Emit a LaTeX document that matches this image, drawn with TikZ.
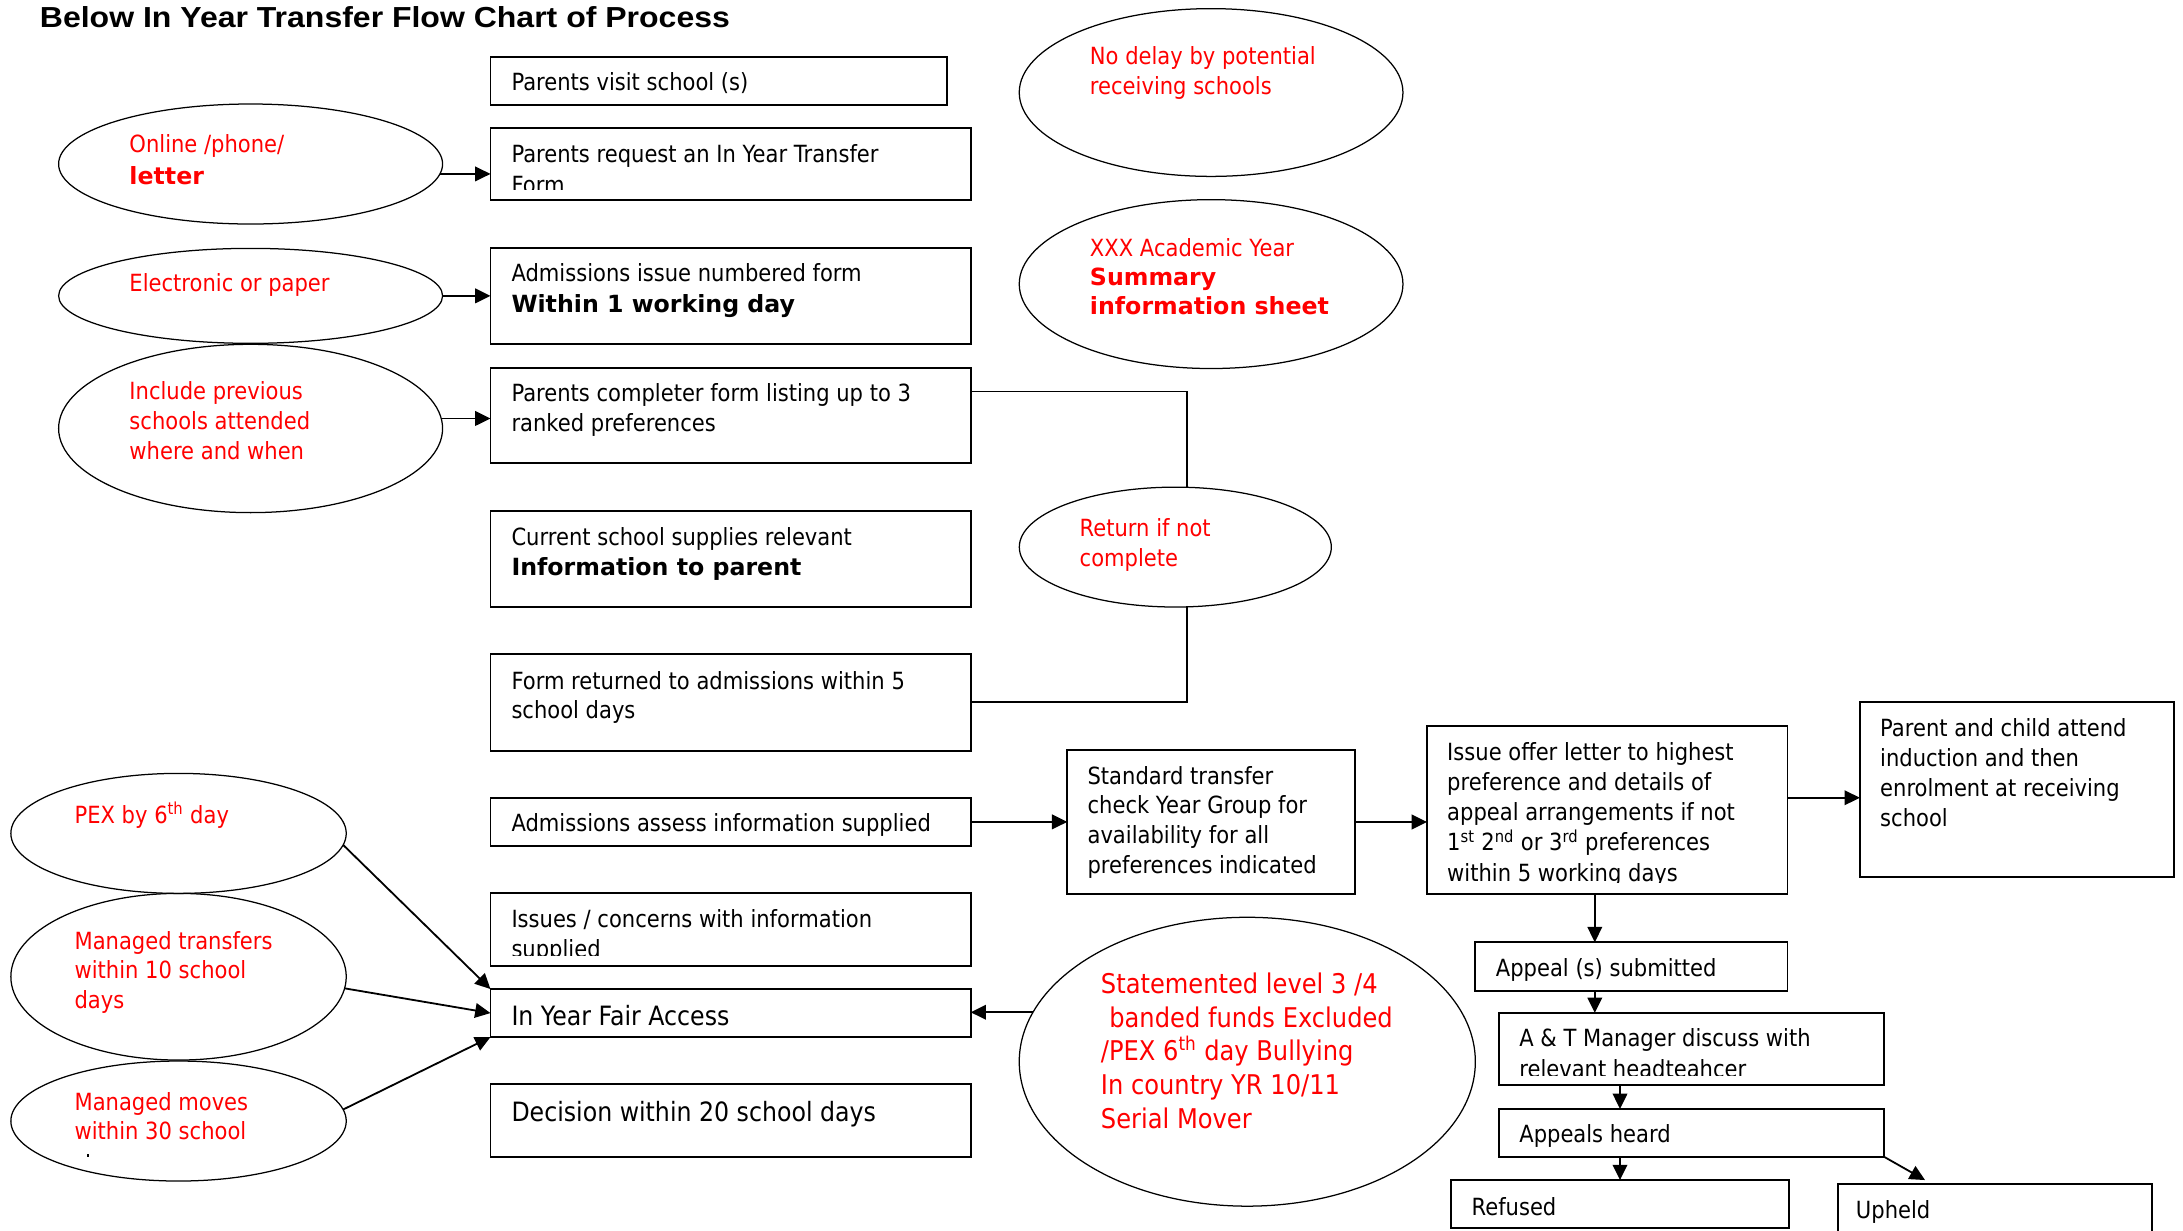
\documentclass[tikz,border=0pt]{standalone}
\usepackage{fontspec}
\usepackage{graphicx}
\setmainfont{DejaVu Sans}[FakeStretch=0.89]
\newfontfamily\boldface{DejaVu Sans}
\newfontfamily\titlefont{Liberation Sans}
\usetikzlibrary{arrows.meta,shapes.geometric,calc}
\definecolor{tred}{RGB}{255,0,0}
\newcommand\bt[1]{{\boldface\bfseries #1}}
\newcommand\ml[2][21.6pt]{\parbox[t]{470pt}{\raggedright\baselineskip=#1\relax #2}}
\tikzset{
 boxn/.style={draw, line width=1.4pt, rectangle, inner sep=0pt, outer sep=0pt, anchor=north west},
 oval/.style={draw, line width=0.9pt, ellipse, inner sep=0pt, outer sep=0pt},
 lbl/.style={anchor=base west, inner sep=0pt, outer sep=0pt, font=\fontsize{17}{21.6}\selectfont},
 rlbl/.style={lbl, text=tred},
 biglbl/.style={lbl, font=\fontsize{19.1}{24}\selectfont},
 conn/.style={line width=1.3pt},
 arr/.style={conn, -{Triangle[length=11pt,width=10.5pt]}},
}
\begin{document}
\begin{tikzpicture}[x=1pt,y=-1pt]
\useasboundingbox (0,0) rectangle (1568,884);
\clip (0,0) rectangle (1568,884);

% title
\node[anchor=base west, inner sep=0pt] (title) at (28.5,19.8)
  {\titlefont\bfseries\fontsize{20.8}{24}\selectfont\scalebox{1.105}[1]{Below In Year Transfer Flow Chart of Process}};

% left column boxes
\node[boxn, minimum width=327.9pt, minimum height=34.7pt] (b1) at (352.3,40.7) {};
\node[boxn, minimum width=344.9pt, minimum height=51.5pt] (b2) at (352.3,92.2) {};
\node[boxn, minimum width=344.9pt, minimum height=68.7pt] (b3) at (352.3,178.4) {};
\node[boxn, minimum width=344.9pt, minimum height=68.7pt] (b4) at (352.3,264.1) {};
\node[boxn, minimum width=344.9pt, minimum height=69.2pt] (b5) at (352.3,366.8) {};
\node[boxn, minimum width=344.9pt, minimum height=69.4pt] (b6) at (352.3,469.8) {};
\node[boxn, minimum width=344.9pt, minimum height=34.7pt] (b7) at (352.3,573) {};
\node[boxn, minimum width=344.9pt, minimum height=51.9pt] (b8) at (352.3,641.7) {};
\node[boxn, minimum width=344.9pt, minimum height=34.5pt] (b9) at (352.3,710.4) {};
\node[boxn, minimum width=344.9pt, minimum height=52.2pt] (b10) at (352.3,778.6) {};

% right flow boxes
\node[boxn, minimum width=206.6pt, minimum height=103.2pt] (s1) at (766.6,538.8) {};
\node[boxn, minimum width=258.9pt, minimum height=121.0pt] (s2) at (1025.0,521.4) {};
\node[boxn, minimum width=225.9pt, minimum height=125.5pt] (s3) at (1335.9,504.3) {};
\node[boxn, minimum width=224.6pt, minimum height=35.0pt] (a1) at (1059.3,676.8) {};
\node[boxn, minimum width=276.5pt, minimum height=51.9pt] (a2) at (1076.8,727.5) {};
\node[boxn, minimum width=276.5pt, minimum height=34.4pt] (a3) at (1076.8,796.5) {};
\node[boxn, minimum width=242.9pt, minimum height=34.2pt] (rf) at (1042.4,847.6) {};
\node[boxn, minimum width=225.7pt, minimum height=60pt] (up) at (1320.3,850.7) {};

% ellipses
\node[oval, minimum width=275.8pt, minimum height=86.2pt] (e1) at (180,117.8) {};
\node[oval, minimum width=275.8pt, minimum height=68.2pt] (e2) at (180,212.5) {};
\node[oval, minimum width=275.8pt, minimum height=120.9pt] (e3) at (180,307.75) {};
\node[oval, minimum width=240.9pt, minimum height=86.2pt] (e4) at (128.25,598.6) {};
\node[oval, minimum width=240.9pt, minimum height=119.7pt] (e5) at (128.25,701.55) {};
\node[oval, minimum width=240.9pt, minimum height=86.2pt] (e6) at (128.25,805.2) {};
\node[oval, minimum width=275.6pt, minimum height=120.5pt] (e7) at (869.9,66.45) {};
\node[oval, minimum width=275.6pt, minimum height=121.3pt] (e8) at (869.9,204.05) {};
\node[oval, minimum width=224.1pt, minimum height=86.1pt] (e9) at (844.2,392.95) {};
\node[oval, minimum width=327.6pt, minimum height=207.5pt] (e10) at (895.9,762.6) {};

% box texts
\node[lbl] (tb1) at (367.4,65.1) {Parents visit school (s)};
\begin{scope}
\clip (b2.north west) rectangle ($(b2.south east)+(0,-7.5)$);
\node[lbl] (tb2) at (367.4,116.6) {\ml[22.4pt]{Parents request an In Year Transfer\\Form}};
\end{scope}
\node[lbl] (tb3) at (367.4,202.3) {\ml[22.3pt]{Admissions issue numbered form\\\bt{Within 1 working day}}};
\node[lbl] (tb4) at (367.4,288.5) {\ml[21.5pt]{Parents completer form listing up to 3\\ranked preferences}};
\node[lbl] (tb5) at (367.4,391.5) {\ml[22.2pt]{Current school supplies relevant\\\bt{Information to parent}}};
\node[lbl] (tb6) at (367.4,495.1) {\ml[21pt]{Form returned to admissions within 5\\school days}};
\node[lbl] (tb7) at (367.4,597.4) {Admissions assess information supplied};
\begin{scope}
\clip (b8.north west) rectangle ($(b8.south east)+(0,-7.2)$);
\node[lbl] (tb8) at (367.4,666.3) {\ml[21.2pt]{Issues / concerns with information\\supplied}};
\end{scope}
\node[biglbl] (tb9) at (367.4,736.7) {In Year Fair Access};
\node[biglbl] (tb10) at (367.4,805.2) {Decision within 20 school days};

\node[lbl] (ts1) at (781.2,563.2) {\ml[21.4pt]{Standard transfer\\check Year Group for\\availability for all\\preferences indicated}};
\begin{scope}
\clip (s2.north west) rectangle ($(s2.south east)+(0,-8.8)$);
\node[lbl] (ts2) at (1039.5,546.0) {\ml[21.7pt]{Issue offer letter to highest\\preference and details of\\appeal arrangements if not\\1\textsuperscript{st} 2\textsuperscript{nd} or 3\textsuperscript{rd} preferences\\within 5 working days}};
\end{scope}
\node[lbl] (ts3) at (1350.5,528.8) {\ml[21.6pt]{Parent and child attend\\induction and then\\enrolment at receiving\\school}};
\node[lbl] (ta1) at (1074.5,701.2) {Appeal (s) submitted};
\begin{scope}
\clip (a2.north west) rectangle ($(a2.south east)+(0,-7.2)$);
\node[lbl] (ta2) at (1091.3,751.7) {\ml[21.9pt]{A \& T Manager discuss with\\relevant headteahcer}};
\end{scope}
\node[lbl] (ta3) at (1091.3,820.7) {Appeals heard};
\node[lbl] (trf) at (1057,872.7) {Refused};
\node[lbl] (tup) at (1333.1,875.1) {Upheld};

% ellipse texts
\node[rlbl] (te1) at (93,109.7) {\ml[22.5pt]{Online /phone/\\\bt{letter}}};
\node[rlbl] (te2) at (93,209.7) {Electronic or paper};
\node[rlbl] (te3) at (93,286.8) {\ml[21.8pt]{Include previous\\schools attended\\where and when}};
\node[rlbl] (te4) at (53.6,591.4) {PEX by 6\textsuperscript{th} day};
\node[rlbl] (te5) at (53.6,681.9) {\ml[21.2pt]{Managed transfers\\within 10 school\\days}};
\node[rlbl] (te6) at (53.6,797.3) {\ml[21.2pt]{Managed moves\\within 30 school}};
\fill (62.4,828.6) rectangle (63.8,831);
\node[rlbl] (te7) at (782.9,46.3) {\ml[21.3pt]{No delay by potential\\receiving schools}};
\node[rlbl] (te8) at (782.9,184) {\ml[21pt]{XXX Academic Year\\\bt{Summary}\\\bt{information sheet}}};
\node[rlbl] (te9) at (775.5,385.4) {\ml[21.3pt]{Return if not\\complete}};
\node[rlbl, font=\fontsize{19.5}{24}\selectfont] (te10) at (790.8,713.5)
  {\ml[24.2pt]{Statemented level 3 /4\\\hspace*{6pt}banded funds Excluded\\/PEX 6\textsuperscript{th} day Bullying\\In country YR 10/11\\Serial Mover}};

% connectors
\draw[arr] (e1.-3.86) -- (e1.-3.86 -| b2.west);
\draw[arr] (e2.east) -- (e2.east -| b3.west);
\draw[arr] (e3.3.84) -- (e3.3.84 -| b4.west);

\coordinate (jx) at (852.4,0);
\coordinate (b4o) at ($(b4.north east)+(0,17.1)$);
\draw[conn] (b4o) -| (jx |- e9.north);
\draw[conn] (b6.east) -| (jx |- e9.south);

\draw[arr] (b7.east) -- (b7.east -| s1.west);
\draw[arr] (s1.east) -- (s1.east -| s2.west);
\coordinate (s2o) at ($(s2.north east)+(0,51.6)$);
\draw[arr] (s2o) -- (s2o -| s3.west);

\coordinate (ax) at (1145.5,0);
\coordinate (bx) at (1163.6,0);
\coordinate (upt) at ($(up.north west)+(62.4,-3.1)$);
\draw[arr] (ax |- s2.south) -- (ax |- a1.north);
\draw[arr] (ax |- a1.south) -- (ax |- a2.north);
\draw[arr] (bx |- a2.south) -- (bx |- a3.north);
\draw[arr] (bx |- a3.south) -- (bx |- rf.north);
\draw[arr] (a3.south east) -- (upt);

\draw[arr] (e10.167.2) -- (e10.167.2 -| b9.east);
\draw[arr] (e4.-4.07) -- (b9.north west);
\draw[arr] (e5.-4.35) -- (b9.west);
\draw[arr] (e6.4.07) -- (b9.south west);
\end{tikzpicture}
\end{document}
